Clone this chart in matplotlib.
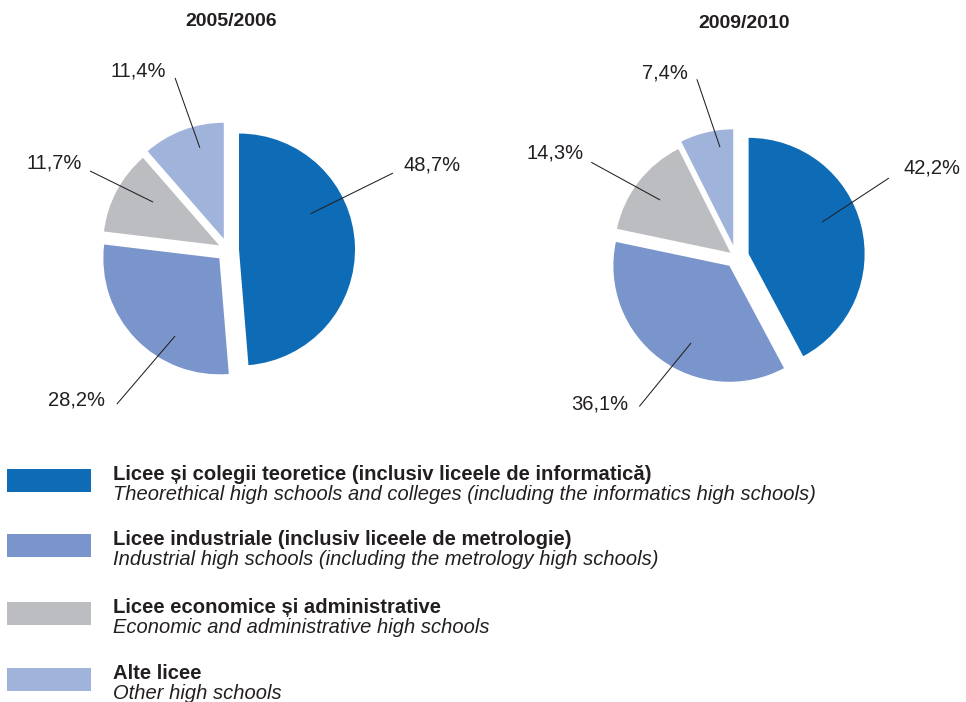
import matplotlib
matplotlib.use('Agg')
import matplotlib.pyplot as plt
from matplotlib.patches import Rectangle
import numpy as np

plt.rcParams['font.family'] = ['Liberation Sans', 'DejaVu Sans']

# ---------------- data ----------------
years = ['2005/2006', '2009/2010']
categories_ro = ['Licee și colegii teoretice (inclusiv liceele de informatică)',
                 'Licee industriale (inclusiv liceele de metrologie)',
                 'Licee economice și administrative',
                 'Alte licee']
categories_en = ['Theorethical high schools and colleges (including the informatics high schools)',
                 'Industrial high schools (including the metrology high schools)',
                 'Economic and administrative high schools',
                 'Other high schools']
shares_2005 = [48.7, 28.2, 11.7, 11.4]
shares_2009 = [42.2, 36.1, 14.3, 7.4]

# ---------------- style / layout ----------------
colors = ['#0e6cb6', '#7995cc', '#bcbdc1', '#a0b3db']
text_color = '#231f20'
W, H = 966, 702
R = 116
pies = [
    dict(values=shares_2005, center=(228, H - 250), explode=[11, 12, 10, 12],
         in_ang=[23.7, 238.4, 147.4, 105.4], in_r=[90, 101, 89, 106],
         out_ang=[25.0, 234.2, 150.2, 107.1], out_r=[182, 190, 159, 180],
         txt_off=[(11, 8), (-12, 4), (-8, 8), (-9, 7)], title_xy=(231.5, H - 21)),
    dict(values=shares_2009, center=(736, H - 257), explode=[13, 11, 7, 12],
         in_ang=[22.1, 242.4, 143.1, 98.3], in_r=[93, 97, 95, 111],
         out_ang=[27.3, 237.1, 146.8, 102.4], out_r=[172, 178, 173, 182],
         txt_off=[(15, 10), (-11, 2), (-8, 9), (-9, 6)], title_xy=(744.5, H - 23)),
]

fig = plt.figure(figsize=(W / 100, H / 100), dpi=100)
ax = fig.add_axes([0, 0, 1, 1])

for year, p in zip(years, pies):
    cx, cy = p['center']
    ax.pie(p['values'], colors=colors, startangle=90, counterclock=False,
           center=p['center'], radius=R, explode=p['explode'],
           wedgeprops=dict(linewidth=0))
    for i, v in enumerate(p['values']):
        a1 = np.deg2rad(p['in_ang'][i]); a2 = np.deg2rad(p['out_ang'][i])
        x1, y1 = cx + p['in_r'][i] * np.cos(a1), cy + p['in_r'][i] * np.sin(a1)
        x2, y2 = cx + p['out_r'][i] * np.cos(a2), cy + p['out_r'][i] * np.sin(a2)
        ax.plot([x1, x2], [y1, y2], color=text_color, lw=0.75, solid_capstyle='butt')
        dx, dy = p['txt_off'][i]
        ax.text(x2 + dx, y2 + dy, f"{v:.1f}%".replace('.', ','),
                ha='left' if dx > 0 else 'right', va='center',
                fontsize=14.5, color=text_color)
    ax.text(*p['title_xy'], year, ha='center', va='center',
            fontsize=14, fontweight='bold', color=text_color)

# legend
row_tops = [469, 534, 602, 668]
for col, ro, en, top in zip(colors, categories_ro, categories_en, row_tops):
    ax.add_patch(Rectangle((7, H - top - 23), 84, 23, facecolor=col, edgecolor='none'))
    ax.text(113, H - (top + 11), ro, ha='left', va='baseline', fontsize=14.6,
            fontweight='bold', color=text_color)
    ax.text(113, H - (top + 31), en, ha='left', va='baseline', fontsize=14.5,
            fontstyle='italic', color=text_color)

ax.set_xlim(0, W)
ax.set_ylim(0, H)
ax.set_aspect('equal')
ax.axis('off')

fig.savefig('out.png', dpi=100)
